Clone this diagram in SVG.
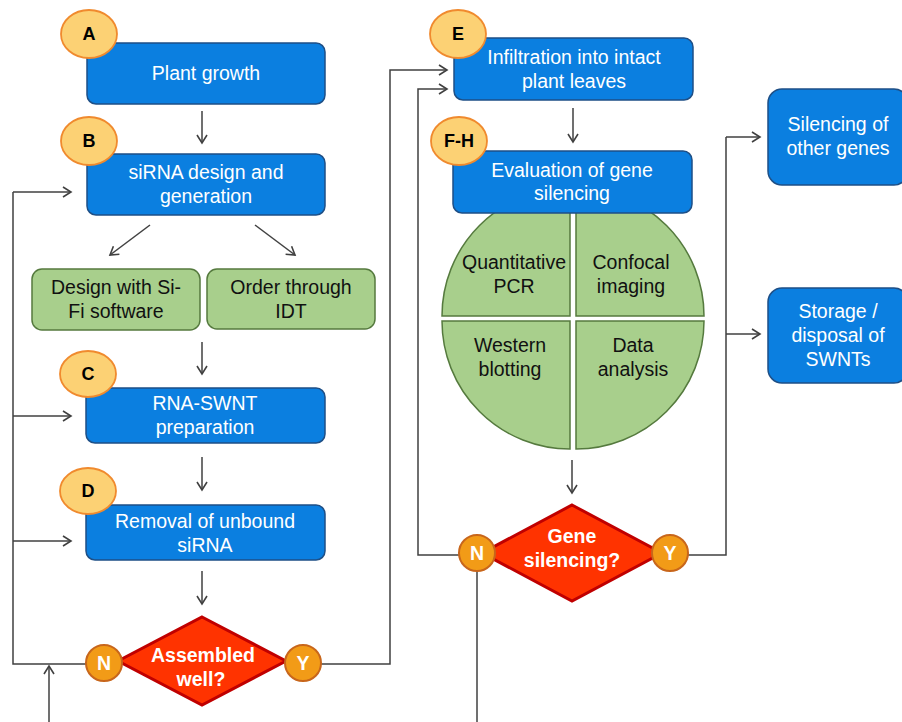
<svg xmlns="http://www.w3.org/2000/svg" width="902" height="722" viewBox="0 0 902 722">
<defs>
<marker id="ah" markerWidth="12" markerHeight="12" refX="10" refY="6" orient="auto" markerUnits="userSpaceOnUse">
<path d="M2,1 L10,6 L2,11" fill="none" stroke="#404040" stroke-width="1.6"/>
</marker>
<style>
.blue{fill:#0B7FE0;stroke:#1E4F86;stroke-width:1.5}
.green{fill:#A8CF8C;stroke:#557A3E;stroke-width:1.5}
.badge{fill:#FCD174;stroke:#F08A2E;stroke-width:1.8}
.yn{fill:#F29B17;stroke:#C8661B;stroke-width:2}
.dia{fill:#FF3300;stroke:#C00000;stroke-width:3}
.wt{font-family:"Liberation Sans",Arial,sans-serif;font-size:19.5px;fill:#FFFFFF;text-anchor:middle}
.bt{font-family:"Liberation Sans",Arial,sans-serif;font-size:19.5px;fill:#111111;text-anchor:middle}
.bb{font-family:"Liberation Sans",Arial,sans-serif;font-size:18px;font-weight:bold;fill:#000000;text-anchor:middle}
.wb{font-family:"Liberation Sans",Arial,sans-serif;font-size:19.5px;font-weight:bold;fill:#FFFFFF;text-anchor:middle}
.ln{fill:none;stroke:#404040;stroke-width:1.5}
.arr{fill:none;stroke:#404040;stroke-width:1.5;marker-end:url(#ah)}
</style>
</defs>
<rect width="902" height="722" fill="#FFFFFF"/>

<g id="connectors">
<line class="arr" x1="202" y1="111" x2="202" y2="143"/>
<line class="arr" x1="150" y1="225" x2="110" y2="255"/>
<line class="arr" x1="255" y1="225" x2="295" y2="255"/>
<line class="arr" x1="202" y1="342" x2="202" y2="374"/>
<line class="arr" x1="202" y1="457" x2="202" y2="490"/>
<line class="arr" x1="202" y1="571" x2="202" y2="604"/>
<polyline class="ln" points="86,664 13,664 13,192"/>
<line class="arr" x1="13" y1="192" x2="71" y2="192"/>
<line class="arr" x1="13" y1="416" x2="71" y2="416"/>
<line class="arr" x1="13" y1="541" x2="71" y2="541"/>
<line class="arr" x1="49" y1="722" x2="49" y2="666"/>
<polyline class="arr" points="320,664 390,664 390,70 447,70"/>
<polyline class="arr" points="459,555 418,555 418,89 447,89"/>
<line class="arr" x1="573" y1="108" x2="573" y2="142"/>
<line class="arr" x1="572" y1="460" x2="572" y2="493"/>
<line class="ln" x1="477" y1="571" x2="477" y2="722"/>
<polyline class="ln" points="688,555 726,555 726,137"/>
<line class="arr" x1="726" y1="137" x2="760" y2="137"/>
<line class="arr" x1="726" y1="334" x2="760" y2="334"/>
</g>

<g id="nodeA">
<rect class="blue" x="87" y="43" width="238" height="61" rx="9"/>
<text class="wt" x="206" y="80">Plant growth</text>
<ellipse class="badge" cx="89" cy="34" rx="28" ry="24"/>
<text class="bb" x="89" y="40">A</text>
</g>

<g id="nodeB">
<rect class="blue" x="87" y="154" width="238" height="61" rx="9"/>
<text class="wt" x="206" y="179">siRNA design and</text>
<text class="wt" x="206" y="203">generation</text>
<ellipse class="badge" cx="89" cy="141" rx="28" ry="24"/>
<text class="bb" x="89" y="147">B</text>
</g>

<g id="nodeSiFi">
<rect class="green" x="32" y="269" width="168" height="61" rx="10"/>
<text class="bt" x="116" y="294">Design with Si-</text>
<text class="bt" x="116" y="318">Fi software</text>
</g>

<g id="nodeIDT">
<rect class="green" x="207" y="269" width="168" height="60" rx="10"/>
<text class="bt" x="291" y="294">Order through</text>
<text class="bt" x="291" y="318">IDT</text>
</g>

<g id="nodeC">
<rect class="blue" x="86" y="388" width="239" height="55" rx="9"/>
<text class="wt" x="205" y="410">RNA-SWNT</text>
<text class="wt" x="205" y="434">preparation</text>
<ellipse class="badge" cx="88" cy="374" rx="28" ry="23"/>
<text class="bb" x="88" y="380">C</text>
</g>

<g id="nodeD">
<rect class="blue" x="86" y="505" width="239" height="55" rx="9"/>
<text class="wt" x="205" y="528">Removal of unbound</text>
<text class="wt" x="205" y="552">siRNA</text>
<ellipse class="badge" cx="88" cy="491" rx="28" ry="23"/>
<text class="bb" x="88" y="497">D</text>
</g>

<g id="nodeAssembled">
<polygon class="dia" points="202,617 286,661 202,705 118,661"/>
<text class="wb" x="203" y="662">Assembled</text>
<text class="wb" x="201" y="686">well?</text>
<circle class="yn" cx="104" cy="663" r="18"/>
<text class="wb" x="104" y="670">N</text>
<circle class="yn" cx="303" cy="663" r="18"/>
<text class="wb" x="303" y="670">Y</text>
</g>

<g id="nodeE">
<rect class="blue" x="454" y="38" width="239" height="62" rx="9"/>
<text class="wt" x="574" y="64">Infiltration into intact</text>
<text class="wt" x="574" y="88">plant leaves</text>
<ellipse class="badge" cx="458" cy="34" rx="28" ry="24"/>
<text class="bb" x="458" y="40">E</text>
</g>

<g id="nodeEval">
<path class="green" d="M570,316 L442,316 A128,128 0 0 1 570,188 Z"/>
<path class="green" d="M576,316 L576,188 A128,128 0 0 1 704,316 Z"/>
<path class="green" d="M570,321 L570,449 A128,128 0 0 1 442,321 Z"/>
<path class="green" d="M576,321 L704,321 A128,128 0 0 1 576,449 Z"/>
<text class="bt" x="514" y="269">Quantitative</text>
<text class="bt" x="514" y="293">PCR</text>
<text class="bt" x="631" y="269">Confocal</text>
<text class="bt" x="631" y="293">imaging</text>
<text class="bt" x="510" y="352">Western</text>
<text class="bt" x="510" y="376">blotting</text>
<text class="bt" x="633" y="352">Data</text>
<text class="bt" x="633" y="376">analysis</text>
<rect class="blue" x="453" y="151" width="239" height="62" rx="9"/>
<text class="wt" x="572" y="177">Evaluation of gene</text>
<text class="wt" x="572" y="200">silencing</text>
<ellipse class="badge" cx="459" cy="141" rx="28" ry="24"/>
<text class="bb" x="459" y="147">F-H</text>
</g>

<g id="nodeGene">
<polygon class="dia" points="572,505 662,553 572,601 482,553"/>
<text class="wb" x="572" y="543">Gene</text>
<text class="wb" x="572" y="567">silencing?</text>
<circle class="yn" cx="477" cy="553" r="18"/>
<text class="wb" x="477" y="560">N</text>
<circle class="yn" cx="670" cy="553" r="18"/>
<text class="wb" x="670" y="560">Y</text>
</g>

<g id="nodeOther">
<rect class="blue" x="768" y="89" width="140" height="96" rx="14"/>
<text class="wt" x="838" y="131">Silencing of</text>
<text class="wt" x="838" y="155">other genes</text>
</g>

<g id="nodeStorage">
<rect class="blue" x="768" y="288" width="140" height="95" rx="14"/>
<text class="wt" x="838" y="318">Storage /</text>
<text class="wt" x="838" y="342">disposal of</text>
<text class="wt" x="838" y="366">SWNTs</text>
</g>
</svg>
